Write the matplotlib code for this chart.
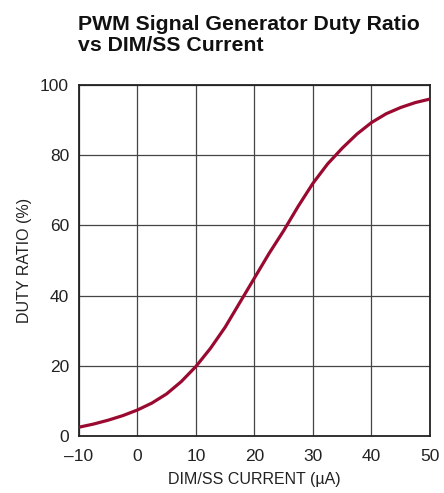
import matplotlib
matplotlib.use("Agg")
import matplotlib.pyplot as plt
from matplotlib import font_manager

names = {f.name for f in font_manager.fontManager.ttflist}
fam = "Liberation Sans Narrow" if "Liberation Sans Narrow" in names else "Liberation Sans"
plt.rcParams['font.family'] = [fam, 'DejaVu Sans']

current = [-10, -7.5, -5, -2.5, 0, 2.5, 5, 7.5, 10, 12.5, 15, 17.5, 20, 22.5,
           25, 27.5, 30, 32.5, 35, 37.5, 40, 42.5, 45, 47.5, 50]
duty = [2.5, 3.4, 4.5, 5.8, 7.4, 9.4, 12.0, 15.5, 19.8, 25.0, 31.0, 38.0, 45.0,
        52.0, 58.5, 65.5, 72.0, 77.5, 82.0, 86.0, 89.3, 91.8, 93.6, 95.0, 96.0]
xticks = [-10, 0, 10, 20, 30, 40, 50]
xticklabels = ["\u201310", "0", "10", "20", "30", "40", "50"]
yticks = [0, 20, 40, 60, 80, 100]

fig = plt.figure(figsize=(4.44, 4.93), dpi=100)
ax = fig.add_axes([0.1775, 0.1156, 0.791, 0.712])
ax.plot(current, duty, color="#9a0a30", lw=2.3, solid_capstyle="butt",
        solid_joinstyle="round", zorder=3)
ax.set_xlim(-10, 50)
ax.set_ylim(0, 100)
ax.set_xticks(xticks)
ax.set_xticklabels(xticklabels)
ax.set_yticks(yticks)
ax.grid(True, color="#444444", lw=0.9)
for s in ax.spines.values():
    s.set_linewidth(1.3)
    s.set_color("#222222")
ax.tick_params(length=0, labelsize=12.5, colors="#222222")
ax.tick_params(axis="x", pad=9)
ax.tick_params(axis="y", pad=7)
ax.set_xlabel("DIM/SS CURRENT (\u00b5A)", fontsize=11.5, color="#222222", labelpad=6)
ax.set_ylabel("DUTY RATIO (%)", fontsize=11.5, color="#222222", labelpad=6)
fig.text(0.1757, 0.969, "PWM Signal Generator Duty Ratio\nvs DIM/SS Current",
         fontsize=15.3, fontweight="bold", ha="left", va="top", linespacing=1.1,
         color="#111111")
fig.savefig("out.png", dpi=100)
